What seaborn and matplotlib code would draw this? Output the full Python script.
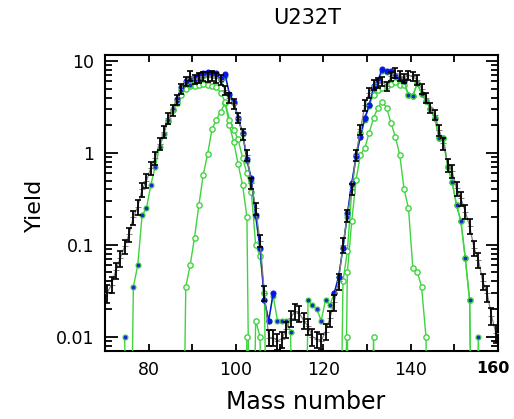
import numpy as np
import matplotlib
matplotlib.use("Agg")
import matplotlib.pyplot as plt
import matplotlib.ticker as mticker
import matplotlib.transforms as mtrans
import seaborn as sns

# measured yields (bins 70..159), with relative errors
exp_mass = list(range(70, 160))
exp_yield = [0.030, 0.037, 0.053, 0.072, 0.096, 0.13, 0.20, 0.26, 0.40, 0.50,
             0.68, 0.88, 1.25, 1.7, 2.4, 2.9, 3.8, 5.0, 6.0, 6.9,
             6.3, 6.6, 6.8, 6.7, 6.9, 6.6, 6.2, 4.8, 4.0, 3.4,
             2.4, 1.6, 0.95, 0.47, 0.25, 0.11, 0.030, 0.0098, 0.0098, 0.0090,
             0.0095, 0.012, 0.016, 0.019, 0.018, 0.015, 0.013, 0.010, 0.0095, 0.0090,
             0.0114, 0.016, 0.024, 0.040, 0.10, 0.21, 0.40, 0.95, 1.8, 3.3,
             4.5, 5.5, 5.8, 6.0, 5.3, 6.8, 7.4, 6.9, 6.5, 7.0,
             6.8, 6.2, 5.0, 4.0, 3.1, 2.6, 1.78, 1.27, 0.74, 0.63,
             0.41, 0.32, 0.23, 0.16, 0.093, 0.069, 0.040, 0.030, 0.017, 0.011]
exp_rel_err = [0.22, 0.20, 0.20, 0.20, 0.18, 0.18, 0.18, 0.18, 0.18, 0.18,
               0.16, 0.16, 0.15, 0.14, 0.14, 0.13, 0.13, 0.12, 0.12, 0.12,
               0.12, 0.12, 0.12, 0.12, 0.12, 0.12, 0.12, 0.12, 0.12, 0.12,
               0.13, 0.13, 0.14, 0.14, 0.15, 0.15, 0.18, 0.20, 0.20, 0.20,
               0.20, 0.20, 0.20, 0.20, 0.20, 0.20, 0.20, 0.20, 0.20, 0.20,
               0.20, 0.20, 0.20, 0.20, 0.18, 0.15, 0.14, 0.14, 0.13, 0.13,
               0.12, 0.12, 0.12, 0.12, 0.12, 0.12, 0.12, 0.12, 0.12, 0.12,
               0.12, 0.12, 0.12, 0.12, 0.13, 0.13, 0.14, 0.15, 0.16, 0.16,
               0.17, 0.17, 0.18, 0.18, 0.18, 0.18, 0.20, 0.20, 0.22, 0.22]

# calculation with green line and filled markers (1e-5 = zero yield)
calc_g_mass = list(range(74, 157))
calc_g_yield = [0.010, 1e-5, 0.035, 0.060, 0.21, 0.25, 0.45, 0.71, 1.15, 1.6,
                2.3, 3.0, 3.7, 4.8, 5.8, 5.5, 6.0, 6.3, 6.8, 7.0,
                7.0, 7.0, 6.2, 6.8, 4.3, 3.5, 2.3, 1.6, 0.82, 0.50,
                0.20, 0.090, 0.025, 0.015, 0.028, 0.015, 0.015, 0.015, 0.0114, 1e-5,
                1e-5, 1e-5, 0.025, 0.022, 0.020, 0.015, 0.025, 0.022, 0.030, 0.045,
                0.093, 0.20, 0.45, 0.90, 1.5, 2.3, 3.2, 5.0, 6.0, 7.8,
                7.5, 7.5, 6.8, 6.4, 6.0, 4.3, 4.2, 5.7, 4.4, 3.7,
                3.0, 2.4, 1.45, 1.45, 0.70, 0.48, 0.27, 0.18, 0.072, 0.025,
                1e-5, 0.010, 1e-5]

# blue calculation, two peaks
blue_l_mass = list(range(86, 109))
blue_l_yield = [3.9, 5.2, 6.0, 6.3, 6.6, 7.0, 7.3, 7.6, 7.3, 7.3,
                6.3, 7.2, 4.4, 3.6, 2.4, 1.65, 0.85, 0.53, 0.21, 0.093,
                0.025, 0.015, 0.030]
blue_r_mass = list(range(122, 139))
blue_r_yield = [0.030, 0.045, 0.093, 0.22, 0.47, 0.93, 1.5, 2.4, 3.3, 5.3,
                6.2, 8.2, 7.7, 7.7, 6.9, 6.5, 6.1]

# open circles: broad component
broad_l_mass = list(range(84, 108))
broad_l_yield = [2.2, 2.9, 3.5, 4.3, 5.0, 5.4, 5.4, 5.5, 5.6, 5.5,
                 5.4, 5.2, 4.5, 3.6, 2.3, 1.78, 1.4, 0.88, 0.60, 0.38,
                 0.10, 0.075, 0.030, 1e-5]
broad_r_mass = list(range(123, 155))
broad_r_yield = [1e-5, 0.040, 0.085, 0.38, 0.95, 1.65, 2.4, 3.3, 4.3, 4.8,
                 5.1, 5.3, 5.6, 5.9, 5.5, 5.5, 4.3, 4.2, 5.7, 4.4,
                 3.7, 3.0, 2.4, 1.45, 1.45, 0.70, 0.48, 0.27, 0.18, 0.072,
                 0.025, 1e-5]

# open circles: narrow component
narrow_l_mass = list(range(87, 104))
narrow_l_yield = [1e-5, 0.035, 0.060, 0.12, 0.27, 0.58, 0.97, 1.8, 2.3, 2.8,
                  3.5, 2.0, 1.3, 0.75, 0.45, 0.20, 1e-5]
narrow_r_mass = list(range(124, 145))
narrow_r_yield = [1e-5, 0.050, 0.18, 0.51, 0.95, 1.13, 1.65, 2.4, 3.1, 3.6,
                  3.1, 2.1, 1.5, 0.95, 0.40, 0.25, 0.056, 0.051, 0.035, 0.010,
                  1e-5]

# open circles: isolated low points
sparse_mass = list(range(101, 133))
sparse_yield = [1e-5, 0.010, 1e-5, 0.015, 0.010, 1e-5, 1e-5, 1e-5, 1e-5, 1e-5,
                1e-5, 1e-5, 1e-5, 1e-5, 1e-5, 1e-5, 1e-5, 1e-5, 1e-5, 1e-5,
                1e-5, 1e-5, 1e-5, 1e-5, 0.010, 1e-5, 1e-5, 1e-5, 1e-5, 1e-5,
                0.010, 1e-5]

x_ticks = [80, 100, 120, 140, 160]
y_ticks = [0.01, 0.1, 1, 10]
y_tick_labels = ["0.01", "0.1", "1", "10"]

GREEN = "#3fd43f"
BLUE = "#0b14e6"
MARK = "#1a2fc0"

sns.set_style("ticks")
plt.rcParams["font.family"] = ["DejaVu Sans"]
for k in ["text.color", "axes.labelcolor", "xtick.color", "ytick.color", "axes.edgecolor"]:
    plt.rcParams[k] = "black"

fig = plt.figure(figsize=(5.14, 4.19), dpi=100)
ax = fig.add_axes([105 / 514, 1 - 351 / 419, 393 / 514, 296 / 419])
ax.set_yscale("log")


def draw(mass, yld, **kw):
    sns.lineplot(x=np.array(mass) + 0.5, y=yld, ax=ax, estimator=None,
                 sort=False, legend=False, **kw)


open_kw = dict(color=GREEN, linewidth=1.0, marker="o", markersize=3.8,
               markerfacecolor="white", markeredgecolor=GREEN,
               markeredgewidth=1.0)
for m, y in [(narrow_l_mass, narrow_l_yield), (narrow_r_mass, narrow_r_yield),
             (sparse_mass, sparse_yield), (broad_l_mass, broad_l_yield),
             (broad_r_mass, broad_r_yield)]:
    draw(m, y, zorder=3, **open_kw)

draw(calc_g_mass, calc_g_yield, color=GREEN, linewidth=1.0, marker="o",
     markersize=3.6, markerfacecolor=MARK, markeredgecolor=GREEN,
     markeredgewidth=0.8, zorder=4)

for m, y in [(blue_l_mass, blue_l_yield), (blue_r_mass, blue_r_yield)]:
    draw(m, y, color=BLUE, linewidth=1.0, marker="o", markersize=3.6,
         markerfacecolor=BLUE, markeredgecolor=BLUE, zorder=5)

# data: gray line + black error bars
exp_x = np.array(exp_mass) + 0.5
exp_y = np.array(exp_yield)
draw(exp_mass, exp_yield, color="#808080", linewidth=0.9, marker="+",
     markersize=4, markeredgecolor="#808080", zorder=6)
ax.errorbar(exp_x, exp_y, yerr=exp_y * np.array(exp_rel_err), fmt="none",
            ecolor="black", elinewidth=1.3, capsize=2.3, capthick=1.2, zorder=7)

ax.set_xlim(70, 160)
ax.set_ylim(0.0070, 11.6)

ax.xaxis.set_major_locator(mticker.FixedLocator(x_ticks))
ax.xaxis.set_minor_locator(mticker.MultipleLocator(10))
ax.set_xticklabels([str(t) for t in x_ticks])
ax.yaxis.set_major_locator(mticker.FixedLocator(y_ticks))
ax.yaxis.set_minor_locator(mticker.LogLocator(base=10, subs=range(2, 10)))
ax.yaxis.set_minor_formatter(mticker.NullFormatter())
ax.set_yticklabels(y_tick_labels)

ax.tick_params(axis="both", which="both", direction="in", top=True, right=True,
               color="black", labelcolor="black", width=1.3, labelsize=12.5)
ax.tick_params(axis="x", which="both", length=5, pad=7)
ax.tick_params(axis="y", which="major", length=9, pad=8)
ax.tick_params(axis="y", which="minor", length=5)
for s in ax.spines.values():
    s.set_linewidth(1.5)
    s.set_color("black")

# last x label is bold in the original; nudge it left so it stays on the canvas
last = ax.get_xticklabels()[-1]
last.set_fontweight("bold")
last.set_fontsize(11.5)
last.set_transform(last.get_transform() + mtrans.ScaledTranslation(-4 / 72, 0, fig.dpi_scale_trans))

ax.set_xlabel("")
ax.set_ylabel("")
fig.text(0.597, 1 - 18 / 419, "U232T", ha="center", va="center", fontsize=15)
fig.text(0.594, 1 - 402 / 419, "Mass number", ha="center", va="center", fontsize=17)
fig.text(0.068, 1 - 205 / 419, "Yield", ha="center", va="center", rotation=90,
         fontsize=16)

fig.savefig("out.png", dpi=100)
